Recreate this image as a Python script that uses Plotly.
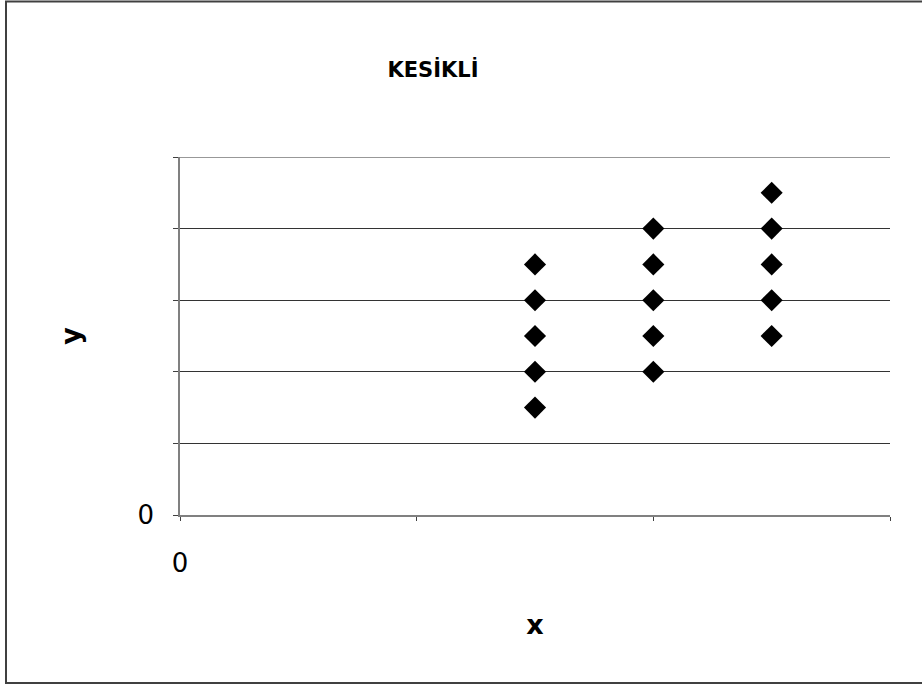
import plotly.graph_objects as go

x_vals = [3, 3, 3, 3, 3, 4, 4, 4, 4, 4, 5, 5, 5, 5, 5]
y_vals = [1.5, 2, 2.5, 3, 3.5, 2, 2.5, 3, 3.5, 4, 2.5, 3, 3.5, 4, 4.5]
x_ticks = [0, 2, 4, 6]
x_ticktext = ["0", "", "", ""]
y_ticks = [0, 1, 2, 3, 4, 5]
y_ticktext = ["0", "", "", "", "", ""]
y_max = 5

W, H = 922, 686
pw, ph = 710, 358
L, T = 180, 157
R, B = W - L - pw, H - T - ph

fig = go.Figure()
fig.add_trace(go.Scatter(
    x=x_vals, y=y_vals, mode="markers",
    marker=dict(symbol="diamond", size=17, color="black"),
    showlegend=False, cliponaxis=False,
))

font = "DejaVu Sans, Verdana, sans-serif"
fig.update_layout(
    width=W, height=H,
    margin=dict(l=L, r=R, t=T, b=B),
    paper_bgcolor="white", plot_bgcolor="white",
    title=dict(text="<b>KESİKLİ</b>", x=433 / W, xref="container", xanchor="center",
               y=1 - 70 / H, yref="container", yanchor="middle",
               font=dict(family=font, size=21, color="black")),
    xaxis=dict(range=[0, 6], tickvals=x_ticks, ticktext=x_ticktext,
               showgrid=False, zeroline=False,
               showline=True, linecolor="#808080", linewidth=1.5,
               ticks="outside", ticklen=4, tickcolor="#404040", tickwidth=1,
               ticklabelstandoff=20,
               tickfont=dict(family=font, size=26, color="black"),
               title=dict(text="<b>x</b>", standoff=38,
                          font=dict(family=font, size=27, color="black"))),
    yaxis=dict(range=[0, y_max], tickvals=y_ticks, ticktext=y_ticktext,
               showgrid=True, gridcolor="#333333", gridwidth=1,
               zeroline=False,
               showline=True, linecolor="#808080", linewidth=1.5,
               ticks="outside", ticklen=5, tickcolor="#404040", tickwidth=1,
               ticklabelstandoff=14,
               tickfont=dict(family=font, size=26, color="black"),
               title=dict(text="<b>y</b>", standoff=49,
                          font=dict(family=font, size=27, color="black"))),
    shapes=[
        dict(type="rect", xref="paper", yref="paper",
             x0=(6 - L) / pw, x1=(W + 10 - L) / pw,
             y0=(515 - 683) / ph, y1=(515 - 1.5) / ph,
             line=dict(color="#404040", width=2), fillcolor="rgba(0,0,0,0)",
             layer="below"),
        dict(type="line", xref="paper", yref="y", x0=0, x1=1, y0=y_max, y1=y_max,
             line=dict(color="#333333", width=1), layer="below"),
    ],
)

fig.write_html("out.html", config={"displayModeBar": False},
               post_script="document.body.style.margin='0';")
